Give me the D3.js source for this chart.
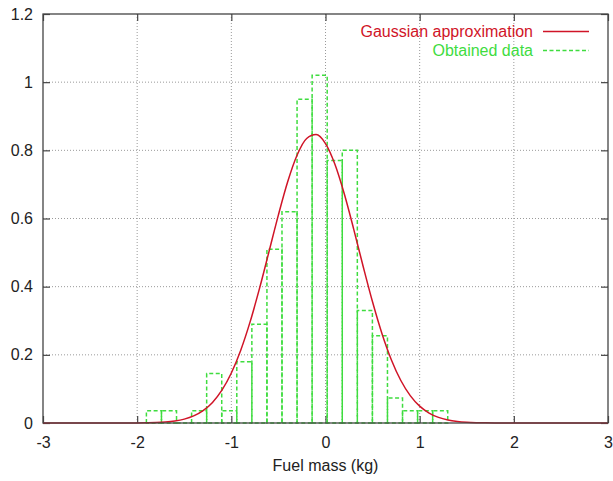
<!DOCTYPE html>
<html>
<head>
<meta charset="utf-8">
<script src="https://cdn.jsdelivr.net/npm/d3@7"></script>
<style>
  html, body { margin: 0; padding: 0; background: #fff; }
  svg { display: block; font-family: "Liberation Sans", Arial, sans-serif; }
</style>
</head>
<body>
<svg id="chart" width="613" height="481"></svg>
<script>
// ---- data ----
const xTickValues = [-3, -2, -1, 0, 1, 2, 3];
const xTickLabels = ["-3", "-2", "-1", "0", "1", "2", "3"];
const yTickValues = [0, 0.2, 0.4, 0.6, 0.8, 1.0, 1.2];
const yTickLabels = ["0", "0.2", "0.4", "0.6", "0.8", "1", "1.2"];

const binWidth = 0.16;
const binCenters = [-1.822, -1.662, -1.502, -1.342, -1.182, -1.022, -0.862, -0.702, -0.542, -0.382,
                    -0.222, -0.062, 0.098, 0.258, 0.418, 0.578, 0.738, 0.898, 1.058, 1.218];
const binHeights = [0.036, 0.036, 0, 0.036, 0.145, 0.036, 0.18, 0.29, 0.51, 0.62,
                    0.95, 1.02, 0.77, 0.80, 0.33, 0.256, 0.073, 0.036, 0.036, 0.036];

const curveX = [-3.0, -2.0, -1.9, -1.8, -1.7, -1.6, -1.5, -1.4, -1.3, -1.2, -1.1, -1.0, -0.9, -0.8, -0.7,
                -0.6, -0.5, -0.4, -0.3, -0.2, -0.1, 0.0, 0.1, 0.2, 0.3, 0.4, 0.5, 0.6, 0.7, 0.8,
                0.9, 1.0, 1.1, 1.2, 1.3, 1.4, 1.5, 1.6, 1.7, 1.8, 2.0, 3.0];
const curveY = [0, 0.0003, 0.0007, 0.0014, 0.003, 0.006, 0.0114, 0.0208, 0.0362, 0.0604, 0.0963, 0.1468, 0.2137, 0.2974, 0.3956,
                0.5028, 0.6108, 0.7093, 0.7871, 0.8348, 0.8462, 0.8198, 0.7591, 0.6718, 0.5682, 0.4593, 0.3548, 0.262, 0.1849, 0.1247,
                0.0804, 0.0495, 0.0292, 0.0164, 0.0088, 0.0045, 0.0022, 0.001, 0.0005, 0.0002, 0, 0];

const seriesNames = ["Gaussian approximation", "Obtained data"];
const xLabel = "Fuel mass (kg)";

// ---- layout ----
const svg = d3.select("#chart");
const mL = 43, mR = 608, mT = 14, mB = 423;
const x = d3.scaleLinear().domain([-3, 3]).range([mL, mR]);
const y = d3.scaleLinear().domain([0, 1.2]).range([mB, mT]);

const red = "#d01427";
const green = "#3fdc3f";
const frame = "#444";

// grid
const grid = svg.append("g");
grid.selectAll("line.gx").data(xTickValues.filter(v => v > -3 && v < 3)).enter()
  .append("line").attr("x1", d => x(d)).attr("x2", d => x(d)).attr("y1", mT).attr("y2", mB)
  .attr("stroke", "#9a9a9a").attr("stroke-width", 1).attr("stroke-dasharray", "1,2");
grid.selectAll("line.gy").data(yTickValues.filter(v => v > 0 && v < 1.2)).enter()
  .append("line").attr("x1", mL).attr("x2", mR).attr("y1", d => y(d)).attr("y2", d => y(d))
  .attr("stroke", "#9a9a9a").attr("stroke-width", 1).attr("stroke-dasharray", "1,2");

// axes
function styleAxis(g) {
  g.select(".domain").remove();
  g.selectAll(".tick line").attr("stroke", frame).attr("stroke-width", 1.2);
  g.selectAll(".tick text").attr("fill", "#222").attr("font-size", 16)
    .attr("font-family", "'Liberation Sans', Arial, sans-serif");
}
svg.append("g").attr("transform", `translate(0,${mB})`)
  .call(d3.axisBottom(x).tickValues(xTickValues).tickFormat((d, i) => xTickLabels[i]).tickSize(-7).tickPadding(14))
  .call(styleAxis);
svg.append("g").attr("transform", `translate(0,${mT})`)
  .call(d3.axisTop(x).tickValues(xTickValues).tickFormat("").tickSize(-7))
  .call(styleAxis);
svg.append("g").attr("transform", `translate(${mL},0)`)
  .call(d3.axisLeft(y).tickValues(yTickValues).tickFormat((d, i) => yTickLabels[i]).tickSize(-7).tickPadding(10))
  .call(styleAxis);
svg.append("g").attr("transform", `translate(${mR},0)`)
  .call(d3.axisRight(y).tickValues(yTickValues).tickFormat("").tickSize(-7))
  .call(styleAxis);

// histogram boxes
svg.append("g").selectAll("path").data(binCenters).enter().append("path")
  .attr("d", (c, i) => {
    const x0 = x(c - binWidth / 2), x1 = x(c + binWidth / 2), y0 = y(0), y1 = y(binHeights[i]);
    return `M${x0},${y0}V${y1}H${x1}V${y0}Z`;
  })
  .attr("fill", "none").attr("stroke", green).attr("stroke-width", 1.5).attr("stroke-dasharray", "4,2.5");

// gaussian curve
const pts = curveX.map((v, i) => [v, curveY[i]]);
svg.append("path").datum(pts)
  .attr("d", d3.line().x(d => x(d[0])).y(d => y(d[1])).curve(d3.curveMonotoneX))
  .attr("fill", "none").attr("stroke", red).attr("stroke-width", 1.5);

// frame
svg.append("rect").attr("x", mL).attr("y", mT).attr("width", mR - mL).attr("height", mB - mT)
  .attr("fill", "none").attr("stroke", frame).attr("stroke-width", 1.3);

// legend
const leg = svg.append("g");
const legendColors = [red, green];
const legendDash = [null, "4,2.5"];
seriesNames.forEach((name, i) => {
  const ly = 31.5 + i * 19;
  leg.append("text").attr("x", 533).attr("y", ly + 5).attr("text-anchor", "end")
    .attr("font-size", 16).attr("fill", legendColors[i]).text(name);
  leg.append("line").attr("x1", 543).attr("x2", 589).attr("y1", ly).attr("y2", ly)
    .attr("stroke", legendColors[i]).attr("stroke-width", 1.5)
    .attr("stroke-dasharray", legendDash[i]);
});

// x label
svg.append("text").attr("x", (mL + mR) / 2).attr("y", 471).attr("text-anchor", "middle")
  .attr("font-size", 16).attr("fill", "#222").text(xLabel);
</script>
</body>
</html>
